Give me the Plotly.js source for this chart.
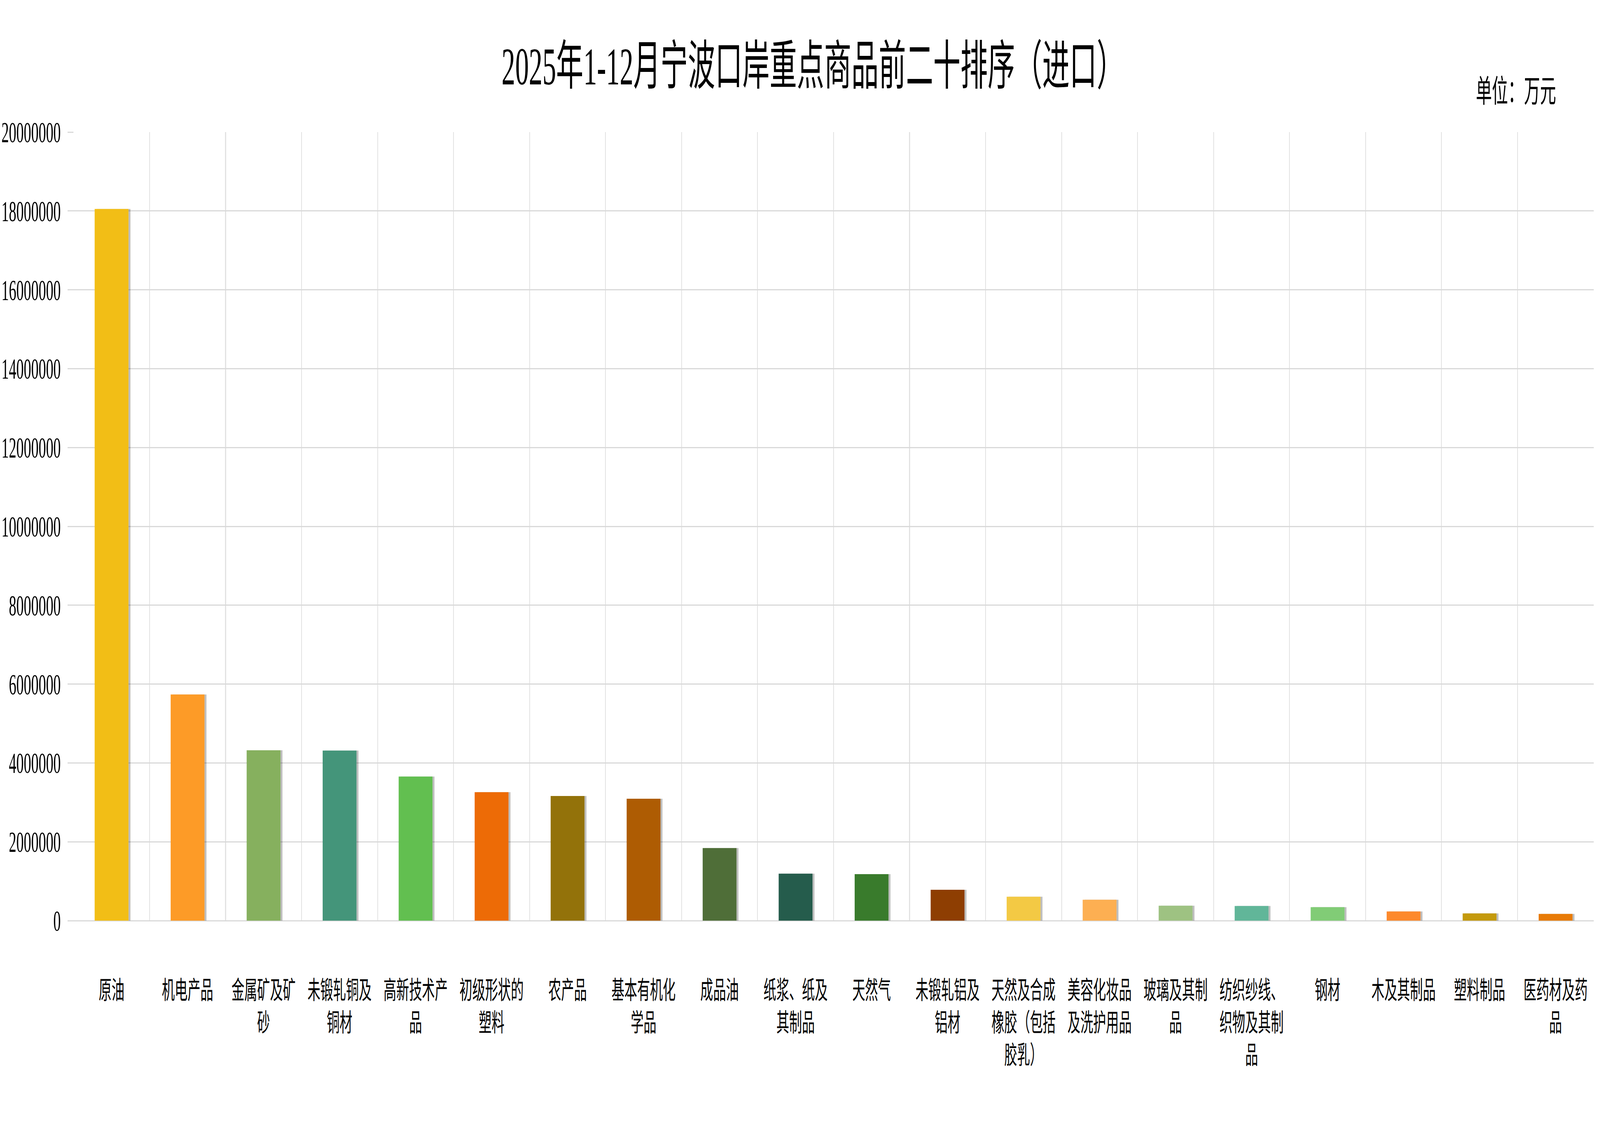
<!DOCTYPE html>
<html>
<head>
<meta charset="utf-8">
<script src="https://cdn.plot.ly/plotly-3.0.1.min.js"></script>
<style>
  html, body { margin: 0; padding: 0; background: #fff; overflow: hidden; }
  #myDiv { width: 7981px; height: 2902px; transform-origin: 0 0; }
</style>
</head>
<body>
<div id="myDiv"></div>
<script>
// 2025年1-12月宁波口岸重点商品前二十排序（进口），单位：万元
var goods = ['原油', '机电产品', '金属矿及矿砂', '未锻轧铜及铜材', '高新技术产品',
  '初级形状的塑料', '农产品', '基本有机化学品', '成品油', '纸浆、纸及其制品',
  '天然气', '未锻轧铝及铝材', '天然及合成橡胶（包括胶乳）', '美容化妆品及洗护用品', '玻璃及其制品',
  '纺织纱线、织物及其制品', '钢材', '木及其制品', '塑料制品', '医药材及药品'];
var values = [18050000, 5737000, 4321000, 4313000, 3654000,
  3259000, 3161000, 3091000, 1842000, 1192000,
  1180000, 782000, 606000, 530000, 379000,
  372000, 341000, 233000, 183000, 170000];
var barColors = ['#F2BE16', '#FD9B27', '#86B05E', '#44957A', '#62BF50',
  '#ED6B06', '#93720A', '#AE5C03', '#4F6E38', '#255C4C',
  '#397B2C', '#8E3E02', '#F3C944', '#FDAF52', '#9EC282',
  '#61B699', '#81CC76', '#FD892C', '#C49A0D', '#E87B06'];
var yTicks = [0, 2000000, 4000000, 6000000, 8000000, 10000000,
  12000000, 14000000, 16000000, 18000000, 20000000];

// the browser window may be smaller than the chart: squeeze the whole page to fit
var W = 7981, H = 2902;
var sx = Math.min(1, window.innerWidth / W), sy = Math.min(1, window.innerHeight / H);
document.getElementById('myDiv').style.transform = 'scale(' + sx + ',' + sy + ')';

// labels wrap every 5 characters, like the original
function wrap(s) {
  var out = [];
  for (var i = 0; i < s.length; i += 5) out.push(s.slice(i, i + 5));
  return out.join('<br>');
}

var idx = goods.map(function (g, i) { return i; });
var bounds = idx.concat([goods.length]).map(function (i) { return i - 0.5; });

var shadow = {
  x: idx, y: values, type: 'bar',
  width: 0.445, offset: -0.2225 + 0.026,
  marker: { color: 'rgba(0,0,0,0.25)' },
  hoverinfo: 'skip', showlegend: false
};
var bars = {
  x: idx, y: values, type: 'bar',
  width: 0.445, offset: -0.2225,
  marker: { color: barColors },
  showlegend: false
};
var data = [shadow, bars];

var font = 'Liberation Serif, "Noto Sans CJK SC", serif';
var layout = {
  width: W, height: H,
  paper_bgcolor: '#ffffff', plot_bgcolor: '#ffffff',
  margin: { l: 367, r: 32, t: 338, b: 546 },
  barmode: 'overlay',
  font: { family: font, color: '#000000' },
  title: {
    text: '2025年1-12月宁波口岸重点商品前二十排序（进口）',
    font: { family: font, size: 136, color: '#000000' },
    xref: 'container', x: 0.508, xanchor: 'center',
    yref: 'container', y: 0.942, yanchor: 'middle'
  },
  xaxis: {
    range: [-0.5, goods.length - 0.5],
    tickmode: 'array', tickvals: idx, ticktext: goods.map(wrap),
    tickangle: 0, ticks: '', showgrid: false, zeroline: false,
    ticklabelstandoff: 135,
    tickfont: { family: font, size: 64, color: '#000000' },
    minor: { tickmode: 'array', tickvals: bounds, showgrid: true,
      gridcolor: '#e2e2e2', gridwidth: 4, ticks: '' },
    showline: false, fixedrange: true
  },
  yaxis: {
    range: [0, 20000000],
    tickmode: 'array', tickvals: yTicks, ticktext: yTicks.map(String),
    ticks: 'outside', ticklen: 28, tickcolor: '#d9d9d9', tickwidth: 3,
    gridcolor: '#d9d9d9', gridwidth: 3,
    zeroline: true, zerolinecolor: '#d9d9d9', zerolinewidth: 3,
    ticklabelstandoff: 20,
    tickfont: { family: font, size: 74, color: '#000000' },
    showline: false, fixedrange: true
  },
  annotations: [{
    text: '单位：万元', showarrow: false,
    xref: 'paper', x: 0.9756, xanchor: 'right',
    yref: 'paper', y: 1.0515, yanchor: 'middle',
    font: { family: font, size: 80, color: '#000000' }
  }]
};

Plotly.newPlot('myDiv', data, layout, { displayModeBar: false, staticPlot: true });
</script>
</body>
</html>
